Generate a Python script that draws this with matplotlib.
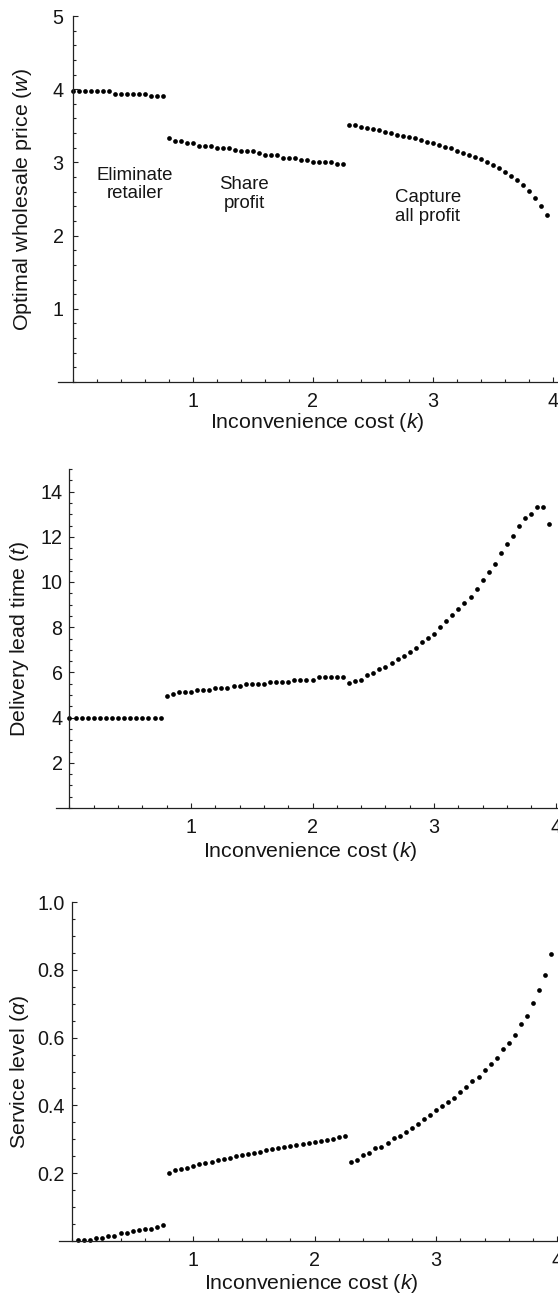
import matplotlib
matplotlib.use("Agg")
import matplotlib.pyplot as plt
from matplotlib.ticker import FixedLocator, MultipleLocator

plt.rcParams["font.family"] = ["Liberation Sans", "DejaVu Sans"]
plt.rcParams["mathtext.fontset"] = "custom"
plt.rcParams["mathtext.rm"] = "Liberation Sans"
plt.rcParams["mathtext.it"] = "Liberation Sans:italic"

# =========================
# DATA (inconvenience cost k, one list per regime)
# =========================

k_eliminate = [0.00, 0.05, 0.10, 0.15, 0.20, 0.25, 0.30, 0.35,
               0.40, 0.45, 0.50, 0.55, 0.60, 0.65, 0.70, 0.75]
k_eliminate_alpha = [0.05, 0.10, 0.15, 0.20, 0.25, 0.30, 0.35,
                     0.40, 0.45, 0.50, 0.55, 0.60, 0.65, 0.70, 0.75]
k_share = [0.80, 0.85, 0.90, 0.95, 1.00, 1.05, 1.10, 1.15, 1.20, 1.25,
           1.30, 1.35, 1.40, 1.45, 1.50, 1.55, 1.60, 1.65, 1.70, 1.75,
           1.80, 1.85, 1.90, 1.95, 2.00, 2.05, 2.10, 2.15, 2.20, 2.25]
k_capture = [2.30, 2.35, 2.40, 2.45, 2.50, 2.55, 2.60, 2.65, 2.70, 2.75,
             2.80, 2.85, 2.90, 2.95, 3.00, 3.05, 3.10, 3.15, 3.20, 3.25,
             3.30, 3.35, 3.40, 3.45, 3.50, 3.55, 3.60, 3.65, 3.70, 3.75,
             3.80, 3.85, 3.90, 3.95]

# optimal wholesale price w
w_eliminate = [3.98, 3.98, 3.98, 3.98, 3.98, 3.98, 3.98, 3.94,
               3.94, 3.94, 3.94, 3.94, 3.94, 3.91, 3.91, 3.91]
w_share = [3.33, 3.29, 3.29, 3.26, 3.26, 3.23, 3.23, 3.23, 3.20, 3.20,
           3.20, 3.17, 3.15, 3.15, 3.15, 3.13, 3.10, 3.10, 3.10, 3.06,
           3.06, 3.06, 3.03, 3.03, 3.01, 3.01, 3.01, 3.01, 2.98, 2.98]
w_capture = [3.51, 3.51, 3.48, 3.47, 3.45, 3.44, 3.42, 3.40, 3.38, 3.36,
             3.35, 3.33, 3.30, 3.28, 3.26, 3.24, 3.21, 3.19, 3.16, 3.13,
             3.10, 3.07, 3.04, 3.00, 2.96, 2.92, 2.87, 2.82, 2.76, 2.69,
             2.61, 2.52, 2.41, 2.28]

# delivery lead time t
t_eliminate = [3.97, 3.97, 3.97, 3.97, 3.97, 3.97, 3.97, 3.97,
               3.97, 3.97, 3.97, 3.97, 3.97, 3.97, 3.97, 3.97]
t_share = [4.94, 5.06, 5.13, 5.13, 5.13, 5.23, 5.23, 5.23, 5.31, 5.31,
           5.31, 5.41, 5.41, 5.50, 5.50, 5.50, 5.50, 5.59, 5.59, 5.59,
           5.59, 5.68, 5.68, 5.68, 5.68, 5.78, 5.78, 5.78, 5.78, 5.78]
t_capture = [5.53, 5.60, 5.68, 5.87, 5.97, 6.15, 6.22, 6.42, 6.61, 6.71,
             6.90, 7.08, 7.35, 7.52, 7.71, 7.99, 8.26, 8.53, 8.81, 9.07,
             9.34, 9.71, 10.08, 10.45, 10.81, 11.29, 11.66, 12.02, 12.47, 12.81,
             13.02, 13.31, 13.31, 12.57]

# service level alpha
a_eliminate = [0.002, 0.002, 0.002, 0.009, 0.009, 0.016, 0.016, 0.023,
               0.023, 0.030, 0.032, 0.036, 0.036, 0.041, 0.047]
a_share = [0.202, 0.208, 0.213, 0.216, 0.222, 0.226, 0.230, 0.234, 0.238, 0.242,
           0.246, 0.250, 0.253, 0.257, 0.260, 0.264, 0.268, 0.271, 0.273, 0.276,
           0.279, 0.282, 0.285, 0.288, 0.291, 0.295, 0.299, 0.302, 0.306, 0.309]
a_capture = [0.233, 0.239, 0.254, 0.259, 0.273, 0.278, 0.290, 0.303, 0.310, 0.321,
             0.334, 0.346, 0.359, 0.372, 0.385, 0.398, 0.410, 0.421, 0.441, 0.454,
             0.471, 0.484, 0.504, 0.522, 0.540, 0.566, 0.584, 0.608, 0.641, 0.665,
             0.702, 0.741, 0.785, 0.846]

X_LABEL = "Inconvenience cost ($k$)"

# =========================
# FIGURE
# =========================

W, H = 558, 1294
fig = plt.figure(figsize=(W / 100, H / 100), dpi=100)

TEXT = "#151515"
AXIS = "#222222"


def panel(left, right, top, bottom, xlim, ylim, yticks, yminor, ylabel,
          ylabel_x, xlabel_x, xlabel_base, ypad, xpad=7.5):
    ax = fig.add_axes([left / W, 1 - bottom / H, (right - left) / W, (bottom - top) / H])
    ax.set_xlim(*xlim)
    ax.set_ylim(*ylim)
    ax.spines["top"].set_visible(False)
    ax.spines["right"].set_visible(False)
    ax.spines["left"].set_position(("data", 0))
    for s in ("left", "bottom"):
        ax.spines[s].set_color(AXIS)
        ax.spines[s].set_linewidth(0.9)

    ax.xaxis.set_major_locator(FixedLocator([1, 2, 3, 4]))
    ax.xaxis.set_minor_locator(MultipleLocator(0.2))
    ax.yaxis.set_major_locator(FixedLocator(yticks))
    ax.yaxis.set_minor_locator(MultipleLocator(yminor))

    ax.tick_params(which="both", direction="in", color=AXIS, width=0.8,
                   labelcolor=TEXT, labelsize=14.2)
    ax.tick_params(which="major", length=3.6)
    ax.tick_params(which="minor", length=2.0)
    ax.tick_params(axis="x", pad=xpad)
    ax.tick_params(axis="y", pad=ypad)

    fig.text(ylabel_x / W, 1 - (top + bottom) / 2 / H, ylabel, rotation=90,
             ha="center", va="center", fontsize=15.4, color=TEXT)
    fig.text(xlabel_x / W, 1 - xlabel_base / H, X_LABEL, ha="center",
             va="baseline", fontsize=15.4, color=TEXT)
    return ax


def dots(ax, k, v):
    ax.plot(k, v, "o", ms=3.4, color="black", mec="none", clip_on=False)


# =========================
# 1. WHOLESALE PRICE
# =========================

ax1 = panel(58, 558, 16, 382, (-0.1225, 4.044), (0, 5), [1, 2, 3, 4, 5], 0.2,
            "Optimal wholesale price ($w$)", 23, 317, 428, 6.5, xpad=7.0)
dots(ax1, k_eliminate, w_eliminate)
dots(ax1, k_share, w_share)
dots(ax1, k_capture, w_capture)

ax1.text(0.52, 2.70, "Eliminate\nretailer", ha="center", va="center",
         fontsize=13.4, color=TEXT, linespacing=1.1)
ax1.text(1.43, 2.57, "Share\nprofit", ha="center", va="center",
         fontsize=13.4, color=TEXT, linespacing=1.1)
ax1.text(2.96, 2.39, "Capture\nall profit", ha="center", va="center",
         fontsize=13.4, color=TEXT, linespacing=1.1)

# =========================
# 2. DELIVERY LEAD TIME
# =========================

ax2 = panel(56, 558, 469, 808, (-0.111, 4.02), (0, 15), [2, 4, 6, 8, 10, 12, 14], 0.5,
            "Delivery lead time ($t$)", 20, 310, 857, 5)
dots(ax2, k_eliminate, t_eliminate)
dots(ax2, k_share, t_share)
dots(ax2, k_capture, t_capture)

# =========================
# 3. SERVICE LEVEL
# =========================

ax3 = panel(59, 558, 902, 1241, (-0.107, 4.005), (0, 1.0), [0.2, 0.4, 0.6, 0.8, 1.0], 0.05,
            r"Service level ($\alpha$)", 20, 311, 1289, 5)
ax3.yaxis.set_major_formatter(plt.FuncFormatter(lambda v, p: f"{v:.1f}"))
dots(ax3, k_eliminate_alpha, a_eliminate)
dots(ax3, k_share, a_share)
dots(ax3, k_capture, a_capture)

fig.savefig("out.png", dpi=100)
